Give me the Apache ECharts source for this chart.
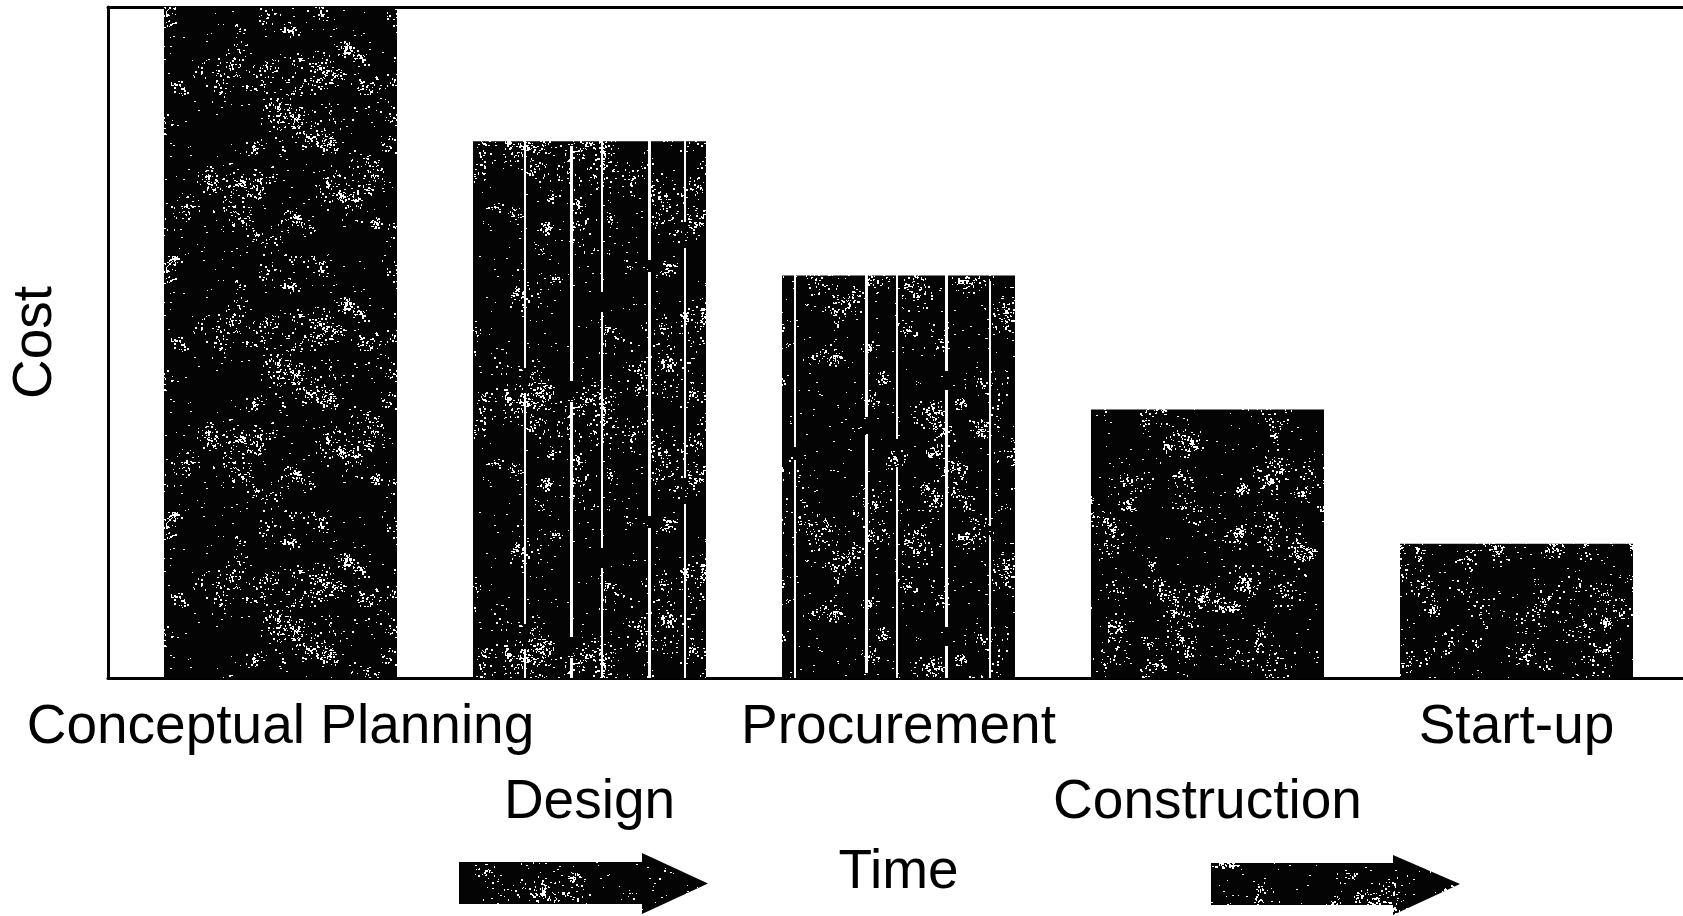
<!DOCTYPE html>
<html>
<head>
<meta charset="utf-8">
<script src="https://cdn.jsdelivr.net/npm/echarts@6/dist/echarts.min.js"></script>
<style>
  html, body { margin: 0; padding: 0; background: #ffffff; }
  #chart { width: 1683px; height: 916px; }
</style>
</head>
<body>
<div id="chart"></div>
<script>
// Project phases and the relative cost of a change made in each phase
const phases = ['Conceptual Planning', 'Design', 'Procurement', 'Construction', 'Start-up'];
const costShare = [100, 80, 60, 40, 20];
const costMax = 100;
const yTitle = 'Cost';
const xTitle = 'Time';

// Bright streaks running through some bars (page x positions)
const streaksByPhase = [[], [524, 570, 601, 648, 684], [794, 865, 896, 945, 989], [], []];

// Grainy black print texture, drawn once with a fixed-seed generator
function makeTexture(w, h, seed, streaks) {
  const c = document.createElement('canvas');
  c.width = w; c.height = h;
  const ctx = c.getContext('2d');
  ctx.fillStyle = '#040404';
  ctx.fillRect(0, 0, w, h);
  let s = seed >>> 0;
  const rnd = () => { s = (Math.imul(s, 1664525) + 1013904223) >>> 0; return s / 4294967296; };
  ctx.fillStyle = '#ffffff';
  const clusters = Math.floor(w * h / 1000);
  for (let k = 0; k < clusters; k++) {
    const cx = rnd() * w, cy = rnd() * h, r = 6 + rnd() * 18;
    const n = 8 + Math.floor(rnd() * 30);
    for (let i = 0; i < n; i++) {
      const a = rnd() * Math.PI * 2, d = rnd() * r;
      ctx.fillRect(Math.round(cx + Math.cos(a) * d), Math.round(cy + Math.sin(a) * d),
        1 + Math.floor(rnd() * 2), 1 + Math.floor(rnd() * 2));
    }
  }
  const dots = Math.floor(w * h / 250);
  for (let i = 0; i < dots; i++) {
    ctx.fillRect(Math.floor(rnd() * w), Math.floor(rnd() * h), 1 + Math.floor(rnd() * 2), 1);
  }
  (streaks || []).forEach(function (x, j) {
    const gap = Math.floor(rnd() * h);
    ctx.fillRect(x, 0, 2 + (j % 2), gap);
    ctx.fillRect(x, gap + 10 + Math.floor(rnd() * 20), 2 + (j % 2), h);
  });
  return c;
}

const plain = makeTexture(1683, 256, 7, []);
function fillFor(i) {
  const st = streaksByPhase[i];
  const img = st.length ? makeTexture(1683, 256, 11 + i, st) : plain;
  return { image: img, repeat: 'repeat' };
}

const font = '"Liberation Sans", Arial, Helvetica, sans-serif';
const frameLine = { show: true, onZero: false, lineStyle: { color: '#000000', width: 3 } };

const chart = echarts.init(document.getElementById('chart'), null, { renderer: 'canvas' });
chart.setOption({
  animation: false,
  backgroundColor: '#ffffff',
  textStyle: { fontFamily: font, color: '#000000' },
  grid: [
    { left: 126, right: 12, top: 7, bottom: 238 },
    { left: 105, right: 0, top: 7, bottom: 238 }
  ],
  xAxis: [
    {
      type: 'category', gridIndex: 0, data: phases,
      axisLine: { show: false }, axisTick: { show: false }, splitLine: { show: false },
      axisLabel: {
        interval: 0, margin: 12, fontSize: 55, lineHeight: 75, color: '#000000', fontFamily: font,
        formatter: function (v, i) { return i % 2 ? '\n' + v : v; }
      },
      name: xTitle, nameLocation: 'middle', nameGap: 163,
      nameTextStyle: { fontSize: 55, color: '#000000', fontFamily: font }
    },
    {
      type: 'value', gridIndex: 1, min: 0, max: 1, position: 'bottom',
      axisLine: frameLine, axisTick: { show: false }, axisLabel: { show: false }, splitLine: { show: false }
    },
    {
      type: 'value', gridIndex: 1, min: 0, max: 1, position: 'top',
      axisLine: frameLine, axisTick: { show: false }, axisLabel: { show: false }, splitLine: { show: false }
    }
  ],
  yAxis: [
    { type: 'value', gridIndex: 0, min: 0, max: costMax, show: false },
    {
      type: 'value', gridIndex: 1, min: 0, max: 1, position: 'left',
      axisLine: frameLine, axisTick: { show: false }, axisLabel: { show: false }, splitLine: { show: false },
      name: yTitle, nameLocation: 'middle', nameRotate: 90, nameGap: 45,
      nameTextStyle: { fontSize: 55, color: '#000000', fontFamily: font }
    }
  ],
  series: [{
    type: 'bar', xAxisIndex: 0, yAxisIndex: 0, barWidth: 233,
    data: costShare.map(function (v, i) { return { value: v, itemStyle: { color: fillFor(i) } }; })
  }],
  graphic: [
    {
      type: 'polygon', silent: true,
      shape: { points: [[459, 862], [642, 862], [642, 853], [708, 883.5], [642, 914], [642, 904], [459, 904]] },
      style: { fill: { image: plain, repeat: 'repeat' } }
    },
    {
      type: 'polygon', silent: true,
      shape: { points: [[1211, 863], [1393, 863], [1393, 855], [1460, 884], [1393, 915], [1393, 905], [1211, 905]] },
      style: { fill: { image: plain, repeat: 'repeat' } }
    }
  ]
});
</script>
</body>
</html>
